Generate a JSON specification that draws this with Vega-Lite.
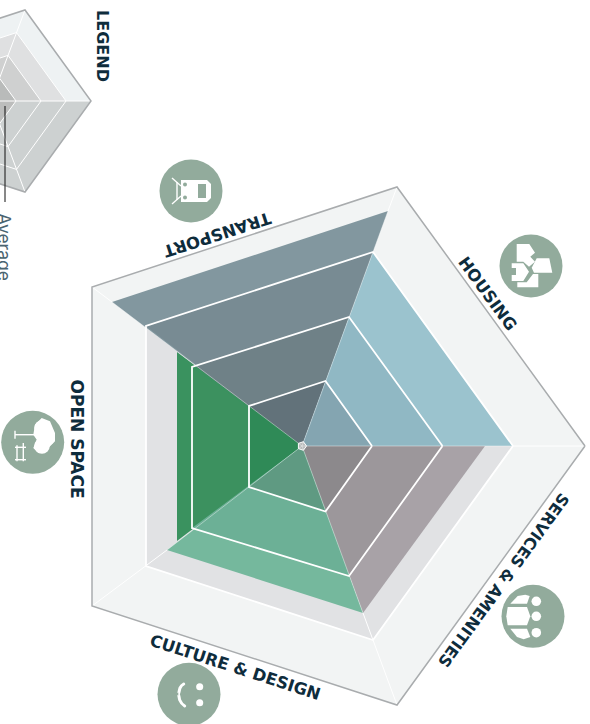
{"$schema":"https://vega.github.io/schema/vega-lite/v6.json","width":590,"height":724,"padding":0,"autosize":"none","background":"white","config":{"view":{"stroke":null}},
"datasets":{"polys":[
{"s":"base4","o":0,"x":283,"y":0},{"s":"base4","o":1,"x":95,"y":259},{"s":"base4","o":2,"x":-210,"y":159},{"s":"base4","o":3,"x":-210,"y":-160},{"s":"base4","o":4,"x":95,"y":-259},
{"s":"base3","o":0,"x":211,"y":0},{"s":"base3","o":1,"x":71,"y":194},{"s":"base3","o":2,"x":-156,"y":120},{"s":"base3","o":3,"x":-156,"y":-120},{"s":"base3","o":4,"x":71,"y":-194},
{"s":"T3","o":0,"x":0,"y":0},{"s":"T3","o":1,"x":86,"y":235},{"s":"T3","o":2,"x":-190,"y":144},
{"s":"T2","o":0,"x":0,"y":0},{"s":"T2","o":1,"x":71,"y":194},{"s":"T2","o":2,"x":-156,"y":120},
{"s":"T1","o":0,"x":0,"y":0},{"s":"T1","o":1,"x":47,"y":129},{"s":"T1","o":2,"x":-110,"y":79},
{"s":"T0","o":0,"x":0,"y":0},{"s":"T0","o":1,"x":23.5,"y":65},{"s":"T0","o":2,"x":-53,"y":40},
{"s":"H2","o":0,"x":0,"y":0},{"s":"H2","o":1,"x":211,"y":0},{"s":"H2","o":2,"x":71,"y":194},
{"s":"H1","o":0,"x":0,"y":0},{"s":"H1","o":1,"x":140.5,"y":0},{"s":"H1","o":2,"x":47,"y":129},
{"s":"H0","o":0,"x":0,"y":0},{"s":"H0","o":1,"x":70,"y":0},{"s":"H0","o":2,"x":23.5,"y":65},
{"s":"S2","o":0,"x":0,"y":0},{"s":"S2","o":1,"x":183,"y":0},{"s":"S2","o":2,"x":61,"y":-167},
{"s":"S1","o":0,"x":0,"y":0},{"s":"S1","o":1,"x":140.5,"y":0},{"s":"S1","o":2,"x":47,"y":-130},
{"s":"S0","o":0,"x":0,"y":0},{"s":"S0","o":1,"x":70,"y":0},{"s":"S0","o":2,"x":23.5,"y":-65.5},
{"s":"O2","o":0,"x":0,"y":0},{"s":"O2","o":1,"x":-125,"y":94},{"s":"O2","o":2,"x":-125,"y":-95},
{"s":"O1","o":0,"x":0,"y":0},{"s":"O1","o":1,"x":-110,"y":79},{"s":"O1","o":2,"x":-110,"y":-82},
{"s":"O0","o":0,"x":0,"y":0},{"s":"O0","o":1,"x":-53,"y":40},{"s":"O0","o":2,"x":-53,"y":-41},
{"s":"C2","o":0,"x":0,"y":0},{"s":"C2","o":1,"x":61,"y":-167},{"s":"C2","o":2,"x":-135,"y":-104},
{"s":"C1","o":0,"x":0,"y":0},{"s":"C1","o":1,"x":47,"y":-130},{"s":"C1","o":2,"x":-110,"y":-82},
{"s":"C0","o":0,"x":0,"y":0},{"s":"C0","o":1,"x":23.5,"y":-65.5},{"s":"C0","o":2,"x":-53,"y":-41},
{"s":"hub","o":0,"x":4.5,"y":0},{"s":"hub","o":1,"x":1.4,"y":4.3},{"s":"hub","o":2,"x":-3.6,"y":2.6},{"s":"hub","o":3,"x":-3.6,"y":-2.6},{"s":"hub","o":4,"x":1.4,"y":-4.3},
{"s":"Lu4","o":0,"x":-311,"y":345},{"s":"Lu4","o":1,"x":-211,"y":345},{"s":"Lu4","o":2,"x":-277,"y":436},{"s":"Lu4","o":3,"x":-385,"y":401},
{"s":"Lu3","o":0,"x":-311,"y":345},{"s":"Lu3","o":1,"x":-236,"y":345},{"s":"Lu3","o":2,"x":-285.5,"y":413.4},{"s":"Lu3","o":3,"x":-366.5,"y":387},
{"s":"Lu2","o":0,"x":-311,"y":345},{"s":"Lu2","o":1,"x":-261,"y":345},{"s":"Lu2","o":2,"x":-294,"y":390.6},{"s":"Lu2","o":3,"x":-348,"y":373},
{"s":"Lu1","o":0,"x":-311,"y":345},{"s":"Lu1","o":1,"x":-286,"y":345},{"s":"Lu1","o":2,"x":-302.5,"y":367.8},{"s":"Lu1","o":3,"x":-329.5,"y":359},
{"s":"Ld4","o":0,"x":-311,"y":345},{"s":"Ld4","o":1,"x":-211,"y":345},{"s":"Ld4","o":2,"x":-277,"y":254},{"s":"Ld4","o":3,"x":-385,"y":289},
{"s":"Ld1","o":0,"x":-311,"y":345},{"s":"Ld1","o":1,"x":-286,"y":345},{"s":"Ld1","o":2,"x":-302.5,"y":322.2},{"s":"Ld1","o":3,"x":-329.5,"y":331}
],
"icons":[
{"s":"tb","o":0,"x":-121,"y":266},{"s":"tb","o":1,"x":-95,"y":266},{"s":"tb","o":2,"x":-91,"y":262},{"s":"tb","o":3,"x":-91,"y":248},{"s":"tb","o":4,"x":-95,"y":244},{"s":"tb","o":5,"x":-121,"y":244},
{"s":"hA","o":0,"x":214.7,"y":202},{"s":"hA","o":1,"x":227.3,"y":202},{"s":"hA","o":2,"x":233,"y":193.3},{"s":"hA","o":3,"x":228.3,"y":189.3},{"s":"hA","o":4,"x":233,"y":184.3},{"s":"hA","o":5,"x":227,"y":179.3},{"s":"hA","o":6,"x":221.3,"y":184.3},{"s":"hA","o":7,"x":214.7,"y":184.3},
{"s":"hB","o":0,"x":234.7,"y":187.7},{"s":"hB","o":1,"x":247.3,"y":187.7},{"s":"hB","o":2,"x":250.3,"y":173.3},{"s":"hB","o":3,"x":232,"y":173.3},{"s":"hB","o":4,"x":229.7,"y":178.3},
{"s":"hC","o":0,"x":236.3,"y":172},{"s":"hC","o":1,"x":236.3,"y":158.7},{"s":"hC","o":2,"x":215.3,"y":158.7},{"s":"hC","o":3,"x":215.3,"y":163.7},{"s":"hC","o":4,"x":224.7,"y":163.7},{"s":"hC","o":5,"x":231,"y":172},
{"s":"hD","o":0,"x":209.7,"y":182.7},{"s":"hD","o":1,"x":221.3,"y":182.7},{"s":"hD","o":2,"x":227,"y":174.3},{"s":"hD","o":3,"x":221.3,"y":165},{"s":"hD","o":4,"x":209.7,"y":165},{"s":"hD","o":5,"x":209.7,"y":171},{"s":"hD","o":6,"x":214,"y":171},{"s":"hD","o":7,"x":214,"y":178},{"s":"hD","o":8,"x":209.7,"y":178},
{"s":"sM","o":0,"x":205.7,"y":-161},{"s":"sM","o":1,"x":225,"y":-161},{"s":"sM","o":2,"x":228.3,"y":-170.3},{"s":"sM","o":3,"x":225,"y":-179.3},{"s":"sM","o":4,"x":205.7,"y":-179.3},{"s":"sM","o":5,"x":204.3,"y":-170.3},
{"s":"sT","o":0,"x":208.3,"y":-157.7},{"s":"sT","o":1,"x":215.7,"y":-150},{"s":"sT","o":2,"x":223.3,"y":-148.7},{"s":"sT","o":3,"x":227.7,"y":-150},{"s":"sT","o":4,"x":225,"y":-157.7},
{"s":"sB","o":0,"x":208.3,"y":-182.7},{"s":"sB","o":1,"x":225,"y":-182.7},{"s":"sB","o":2,"x":228.3,"y":-191},{"s":"sB","o":3,"x":221.7,"y":-193.3},{"s":"sB","o":4,"x":215,"y":-191},
{"s":"tr","o":0,"x":-267,"y":21.3},{"s":"tr","o":1,"x":-260.3,"y":28},{"s":"tr","o":2,"x":-252,"y":24.7},{"s":"tr","o":3,"x":-247,"y":13},{"s":"tr","o":4,"x":-247,"y":4.7},{"s":"tr","o":5,"x":-255.3,"y":-3.7},{"s":"tr","o":6,"x":-263.7,"y":-7},{"s":"tr","o":7,"x":-268.7,"y":-2},{"s":"tr","o":8,"x":-265.3,"y":6.3},{"s":"tr","o":9,"x":-268.7,"y":11.3}
],
"window":[{"s":"w","o":0,"x":-104,"y":262},{"s":"w","o":1,"x":-96,"y":262},{"s":"w","o":2,"x":-96,"y":248},{"s":"w","o":3,"x":-104,"y":248}],
"lines":[
{"g":"ring","s":"R1","o":0,"x":70,"y":0},{"g":"ring","s":"R1","o":1,"x":23.5,"y":65},{"g":"ring","s":"R1","o":2,"x":-53,"y":40},{"g":"ring","s":"R1","o":3,"x":-53,"y":-41},{"g":"ring","s":"R1","o":4,"x":23.5,"y":-65.5},{"g":"ring","s":"R1","o":5,"x":70,"y":0},
{"g":"ring","s":"R2","o":0,"x":140.5,"y":0},{"g":"ring","s":"R2","o":1,"x":47,"y":129},{"g":"ring","s":"R2","o":2,"x":-110,"y":79},{"g":"ring","s":"R2","o":3,"x":-110,"y":-82},{"g":"ring","s":"R2","o":4,"x":47,"y":-130},{"g":"ring","s":"R2","o":5,"x":140.5,"y":0},
{"g":"ring","s":"R3","o":0,"x":211,"y":0},{"g":"ring","s":"R3","o":1,"x":71,"y":194},{"g":"ring","s":"R3","o":2,"x":-156,"y":120},{"g":"ring","s":"R3","o":3,"x":-156,"y":-120},{"g":"ring","s":"R3","o":4,"x":71,"y":-194},{"g":"ring","s":"R3","o":5,"x":211,"y":0},
{"g":"thin","s":"L1","o":0,"x":-286,"y":345},{"g":"thin","s":"L1","o":1,"x":-302.5,"y":367.8},{"g":"thin","s":"L1","o":2,"x":-329.5,"y":359},{"g":"thin","s":"L1b","o":0,"x":-286,"y":345},{"g":"thin","s":"L1b","o":1,"x":-302.5,"y":322.2},{"g":"thin","s":"L1b","o":2,"x":-329.5,"y":331},
{"g":"thin","s":"L2","o":0,"x":-261,"y":345},{"g":"thin","s":"L2","o":1,"x":-294,"y":390.6},{"g":"thin","s":"L2","o":2,"x":-348,"y":373},{"g":"thin","s":"L2b","o":0,"x":-261,"y":345},{"g":"thin","s":"L2b","o":1,"x":-294,"y":299.4},{"g":"thin","s":"L2b","o":2,"x":-348,"y":317},
{"g":"thin","s":"L3","o":0,"x":-236,"y":345},{"g":"thin","s":"L3","o":1,"x":-285.5,"y":413.4},{"g":"thin","s":"L3","o":2,"x":-366.5,"y":387},{"g":"thin","s":"L3b","o":0,"x":-236,"y":345},{"g":"thin","s":"L3b","o":1,"x":-285.5,"y":276.6},{"g":"thin","s":"L3b","o":2,"x":-366.5,"y":303},
{"g":"thin","s":"sp0","o":0,"x":211,"y":0},{"g":"thin","s":"sp0","o":1,"x":283,"y":0},
{"g":"thin","s":"sp1","o":0,"x":86,"y":235},{"g":"thin","s":"sp1","o":1,"x":95,"y":259},
{"g":"thin","s":"sp2","o":0,"x":-190,"y":144},{"g":"thin","s":"sp2","o":1,"x":-210,"y":159},
{"g":"thin","s":"sp3","o":0,"x":-135,"y":-104},{"g":"thin","s":"sp3","o":1,"x":-210,"y":-160},
{"g":"thin","s":"sp4","o":0,"x":61,"y":-167},{"g":"thin","s":"sp4","o":1,"x":95,"y":-259},
{"g":"thin","s":"lp0","o":0,"x":-311,"y":345},{"g":"thin","s":"lp0","o":1,"x":-211,"y":345},
{"g":"thin","s":"lp1","o":0,"x":-311,"y":345},{"g":"thin","s":"lp1","o":1,"x":-277,"y":436},
{"g":"thin","s":"lp2","o":0,"x":-311,"y":345},{"g":"thin","s":"lp2","o":1,"x":-277,"y":254},
{"g":"thin","s":"hubline","o":0,"x":4.5,"y":0},{"g":"thin","s":"hubline","o":1,"x":1.4,"y":4.3},{"g":"thin","s":"hubline","o":2,"x":-3.6,"y":2.6},{"g":"thin","s":"hubline","o":3,"x":-3.6,"y":-2.6},{"g":"thin","s":"hubline","o":4,"x":1.4,"y":-4.3},{"g":"thin","s":"hubline","o":5,"x":4.5,"y":0},
{"g":"pale","s":"in0","o":0,"x":0,"y":0},{"g":"pale","s":"in0","o":1,"x":211,"y":0},
{"g":"pale","s":"in1","o":0,"x":0,"y":0},{"g":"pale","s":"in1","o":1,"x":86,"y":235},
{"g":"pale","s":"in2","o":0,"x":0,"y":0},{"g":"pale","s":"in2","o":1,"x":-190,"y":144},
{"g":"pale","s":"in3","o":0,"x":0,"y":0},{"g":"pale","s":"in3","o":1,"x":-135,"y":-104},
{"g":"pale","s":"in4","o":0,"x":0,"y":0},{"g":"pale","s":"in4","o":1,"x":61,"y":-167},
{"g":"edge","s":"E4","o":0,"x":283,"y":0},{"g":"edge","s":"E4","o":1,"x":95,"y":259},{"g":"edge","s":"E4","o":2,"x":-210,"y":159},{"g":"edge","s":"E4","o":3,"x":-210,"y":-160},{"g":"edge","s":"E4","o":4,"x":95,"y":-259},{"g":"edge","s":"E4","o":5,"x":283,"y":0},
{"g":"edge","s":"EL","o":0,"x":-385,"y":401},{"g":"edge","s":"EL","o":1,"x":-277,"y":436},{"g":"edge","s":"EL","o":2,"x":-211,"y":345},{"g":"edge","s":"EL","o":3,"x":-277,"y":254},{"g":"edge","s":"EL","o":4,"x":-385,"y":289},
{"g":"leader","s":"ld","o":0,"x":-297,"y":340},{"g":"leader","s":"ld","o":1,"x":-297,"y":244},
{"g":"glyph","s":"g1","o":0,"x":-125,"y":264},{"g":"glyph","s":"g1","o":1,"x":-125,"y":246},
{"g":"glyph","s":"g2","o":0,"x":-130,"y":268},{"g":"glyph","s":"g2","o":1,"x":-121,"y":260},
{"g":"glyph","s":"g3","o":0,"x":-130,"y":242},{"g":"glyph","s":"g3","o":1,"x":-121,"y":250},
{"g":"glyph","s":"g4","o":0,"x":-287,"y":15.3},{"g":"glyph","s":"g4","o":1,"x":-287,"y":7.3},
{"g":"glyph","s":"g5","o":0,"x":-287,"y":11.3},{"g":"glyph","s":"g5","o":1,"x":-267,"y":11.3},
{"g":"glyph","s":"g6","o":0,"x":-285,"y":0.7},{"g":"glyph","s":"g6","o":1,"x":-285,"y":-15.3},
{"g":"glyph","s":"g7","o":0,"x":-278.7,"y":3},{"g":"glyph","s":"g7","o":1,"x":-278.7,"y":-15.3},
{"g":"glyph","s":"g8","o":0,"x":-287,"y":-1.3},{"g":"glyph","s":"g8","o":1,"x":-276,"y":-1.3},
{"g":"glyph","s":"g10","o":0,"x":-287,"y":-13.7},{"g":"glyph","s":"g10","o":1,"x":-276,"y":-13.7},
{"g":"mouth","s":"m","o":0,"x":-118.3,"y":-238},{"g":"mouth","s":"m","o":1,"x":-122,"y":-242},{"g":"mouth","s":"m","o":2,"x":-123.7,"y":-248},{"g":"mouth","s":"m","o":3,"x":-122.3,"y":-254},{"g":"mouth","s":"m","o":4,"x":-117.3,"y":-260}
],
"circles":[{"name":"Transport","x":-111,"y":255},{"name":"Housing","x":229,"y":180},{"name":"Services","x":231,"y":-170.3},{"name":"Open space","x":-269.3,"y":3.7},{"name":"Culture","x":-113,"y":-248.3}],
"dots":[{"x":234.3,"y":-155.3},{"x":234.3,"y":-170.3},{"x":234.3,"y":-186.7}],
"eyes":[{"x":-102.3,"y":-240.7},{"x":-102.3,"y":-256.7}],
"puffs":[{"x":-260,"y":18},{"x":-255,"y":8},{"x":-260,"y":0}],
"traindots":[{"x":-117,"y":261.5},{"x":-117,"y":248.5}]
},
"encoding":{"x":{"field":"x","type":"quantitative","scale":{"domain":[-302,288],"nice":false,"zero":false},"axis":null},"y":{"field":"y","type":"quantitative","scale":{"domain":[-278,446],"nice":false,"zero":false},"axis":null}},
"layer":[
{"data":{"name":"polys"},"mark":{"type":"line","clip":true,"strokeWidth":0},"encoding":{"order":{"field":"o"},"fill":{"field":"s","type":"nominal","legend":null,"scale":{"domain":["base4","base3","T3","T2","T1","T0","H2","H1","H0","S2","S1","S0","O2","O1","O0","C2","C1","C0","hub","Lu4","Lu3","Lu2","Lu1","Ld4","Ld1"],"range":["#f2f4f4","#e1e2e4","#82979f","#788b93","#6f8187","#62727a","#9bc3ce","#90b8c4","#84a5b1","#a8a2a7","#9c979b","#8c898c","#3a925f","#3c915f","#2f8a57","#75b89d","#6cb096","#5f9a82","#b9bbbb","#eef2f3","#dfe0e1","#cfd0d0","#b9bbba","#cdd1d1","#bcbdbc"]}}}},
{"data":{"name":"lines"},"transform":[{"filter":"datum.g=='pale'"}],"mark":{"type":"line","clip":true,"stroke":"#ffffff","strokeWidth":1,"opacity":0.4},"encoding":{"order":{"field":"o"},"detail":{"field":"s"}}},
{"data":{"name":"lines"},"transform":[{"filter":"datum.g=='ring'"}],"mark":{"type":"line","clip":true,"stroke":"#ffffff","strokeWidth":1.8},"encoding":{"order":{"field":"o"},"detail":{"field":"s"}}},
{"data":{"name":"lines"},"transform":[{"filter":"datum.g=='thin'"}],"mark":{"type":"line","clip":true,"stroke":"#ffffff","strokeWidth":1},"encoding":{"order":{"field":"o"},"detail":{"field":"s"}}},
{"data":{"name":"lines"},"transform":[{"filter":"datum.g=='edge'"}],"mark":{"type":"line","clip":true,"stroke":"#a9acae","strokeWidth":1.5},"encoding":{"order":{"field":"o"},"detail":{"field":"s"}}},
{"data":{"name":"lines"},"transform":[{"filter":"datum.g=='leader'"}],"mark":{"type":"line","clip":true,"stroke":"#111111","strokeWidth":1},"encoding":{"order":{"field":"o"},"detail":{"field":"s"}}},
{"data":{"name":"circles"},"mark":{"type":"point","clip":true,"filled":true,"fill":"#92ab9c","opacity":1,"size":3969,"shape":"circle","strokeWidth":0}},
{"data":{"name":"icons"},"mark":{"type":"line","fill":"#ffffff","strokeWidth":0},"encoding":{"order":{"field":"o"},"detail":{"field":"s"}}},
{"data":{"name":"window"},"mark":{"type":"line","fill":"#92ab9c","strokeWidth":0},"encoding":{"order":{"field":"o"},"detail":{"field":"s"}}},
{"data":{"name":"traindots"},"mark":{"type":"point","filled":true,"fill":"#92ab9c","opacity":1,"size":16,"strokeWidth":0}},
{"data":{"name":"dots"},"mark":{"type":"point","filled":true,"fill":"#ffffff","opacity":1,"size":92,"strokeWidth":0}},
{"data":{"name":"eyes"},"mark":{"type":"point","filled":true,"fill":"#ffffff","opacity":1,"size":50,"strokeWidth":0}},
{"data":{"name":"puffs"},"mark":{"type":"point","filled":true,"fill":"#ffffff","opacity":1,"size":240,"strokeWidth":0}},
{"data":{"name":"lines"},"transform":[{"filter":"datum.g=='glyph'"}],"mark":{"type":"line","stroke":"#ffffff","strokeWidth":1.4},"encoding":{"order":{"field":"o"},"detail":{"field":"s"}}},
{"data":{"name":"lines"},"transform":[{"filter":"datum.g=='mouth'"}],"mark":{"type":"line","stroke":"#ffffff","strokeWidth":3,"interpolate":"monotone","strokeCap":"round"},"encoding":{"order":{"field":"o"},"detail":{"field":"s"}}},
{"data":{"values":[{"t":"LEGEND","x":-200,"y":400}]},"mark":{"type":"text","angle":90,"font":"DejaVu Sans","fontWeight":700,"fontSize":16,"fill":"#0e2c3c"},"encoding":{"text":{"field":"t"}}},
{"data":{"values":[{"t":"OPEN SPACE","x":-226,"y":7}]},"mark":{"type":"text","angle":90,"font":"DejaVu Sans","fontWeight":700,"fontSize":17,"fill":"#0e2c3c"},"encoding":{"text":{"field":"t"}}},
{"data":{"values":[{"t":"TRANSPORT","x":-85,"y":212}]},"mark":{"type":"text","angle":162,"font":"DejaVu Sans","fontWeight":700,"fontSize":16.5,"fill":"#0e2c3c"},"encoding":{"text":{"field":"t"}}},
{"data":{"values":[{"t":"HOUSING","x":185,"y":152}]},"mark":{"type":"text","angle":54,"font":"DejaVu Sans","fontWeight":700,"fontSize":16.5,"fill":"#0e2c3c"},"encoding":{"text":{"field":"t"}}},
{"data":{"values":[{"t":"SERVICES & AMENITIES","x":201,"y":-134}]},"mark":{"type":"text","angle":126,"font":"DejaVu Sans","fontWeight":700,"fontSize":16,"fill":"#0e2c3c"},"encoding":{"text":{"field":"t"}}},
{"data":{"values":[{"t":"CULTURE & DESIGN","x":-67,"y":-222}]},"mark":{"type":"text","angle":18,"font":"DejaVu Sans","fontWeight":700,"fontSize":16.5,"fill":"#0e2c3c"},"encoding":{"text":{"field":"t"}}},
{"data":{"values":[{"t":"Average","x":-299.5,"y":233}]},"mark":{"type":"text","angle":90,"align":"left","font":"Inter","fontWeight":400,"fontSize":17.5,"fill":"#4a6470"},"encoding":{"text":{"field":"t"}}}
]}
